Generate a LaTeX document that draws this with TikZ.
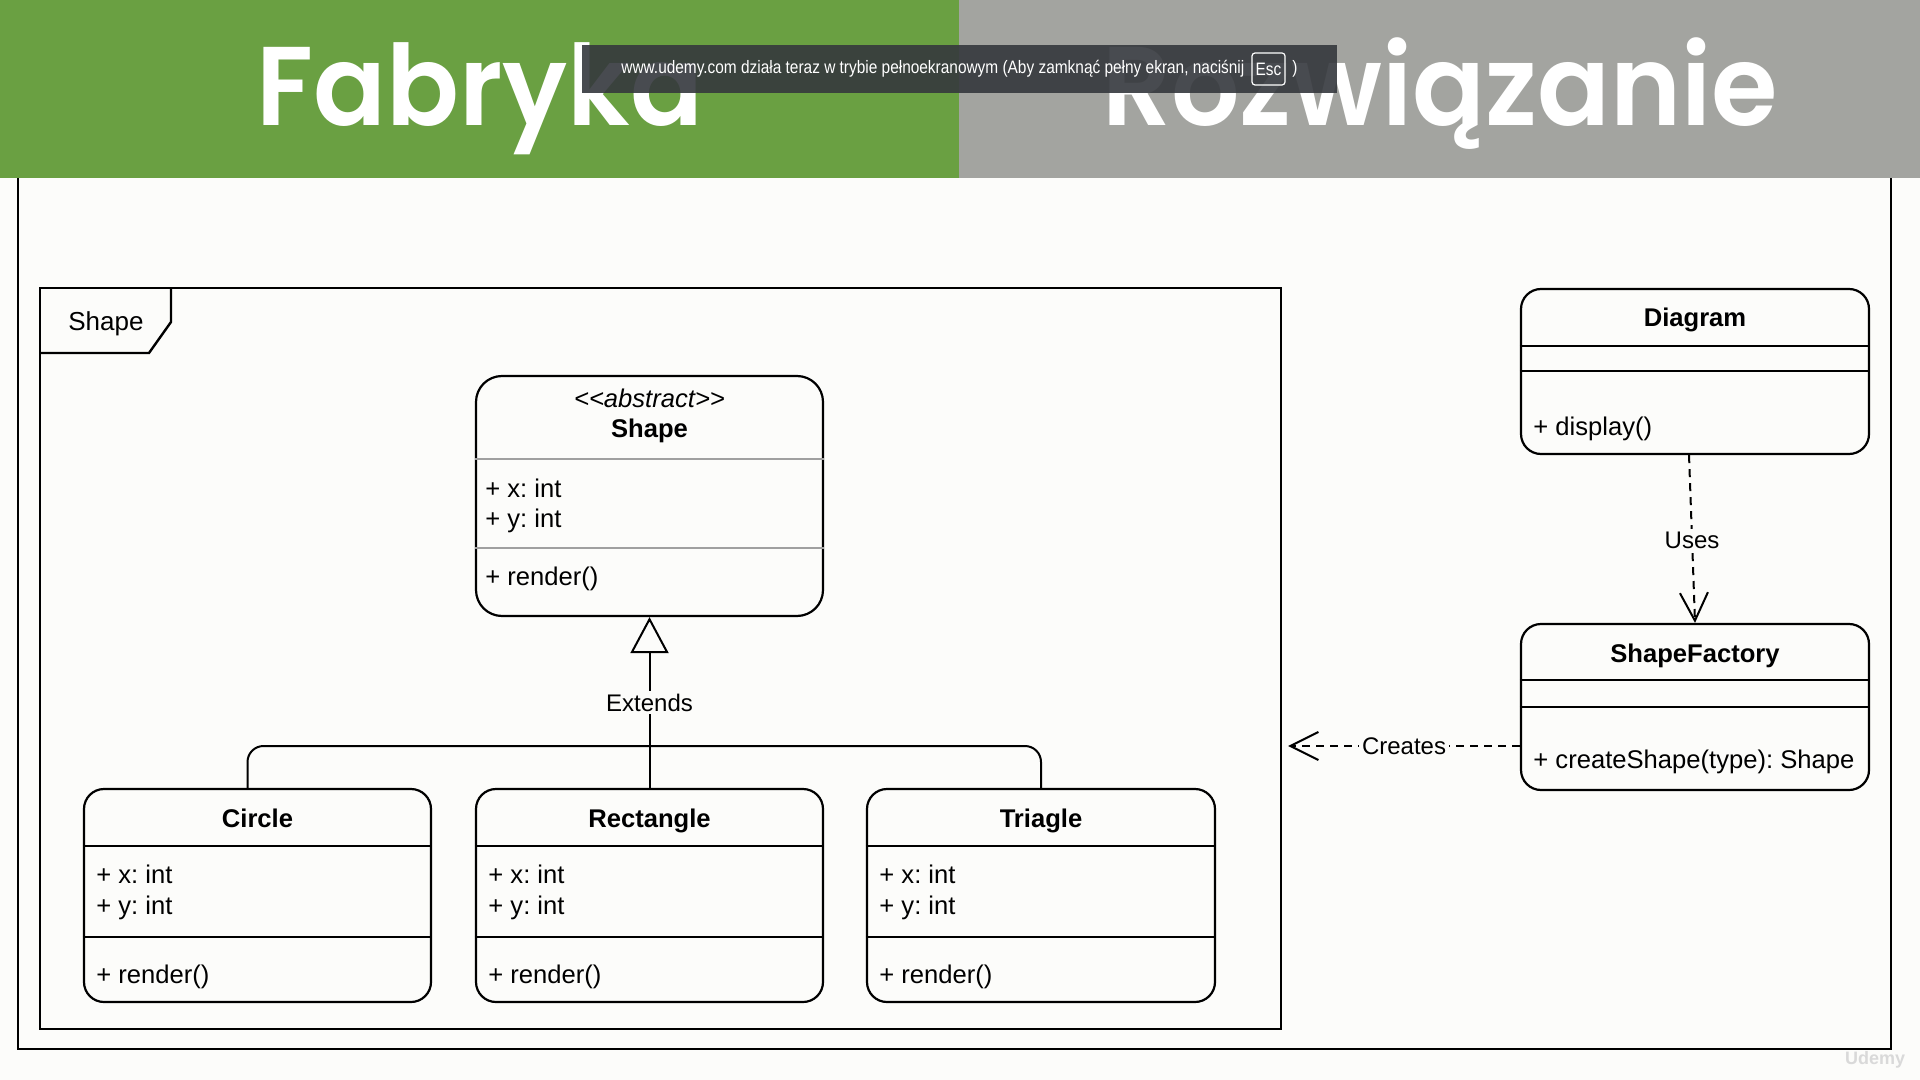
\documentclass[tikz,border=0pt]{standalone}
\usepackage{fontspec}
\setmainfont{Liberation Sans}
\newfontfamily\tytulfont[FakeStretch=0.96, BoldFont={* SemiBold}]{Poppins}
\newfontfamily\paskowyfont[FakeStretch=0.857]{Liberation Sans}
\usetikzlibrary{arrows.meta}
\frenchspacing

\definecolor{tlo}{HTML}{FCFCFA}
\definecolor{zielony}{HTML}{6AA042}
\definecolor{szary}{HTML}{A3A4A0}
\definecolor{pasek}{HTML}{35383D}
\definecolor{linia}{HTML}{A0A0A0}

\tikzset{
  klasa/.style={draw=black, line width=1.1pt, rounded corners=10pt, fill=tlo, inner sep=0pt},
  tekst/.style={anchor=base west, inner sep=0pt, font=\fontsize{12.8}{15}\selectfont},
  nazwa/.style={anchor=base, inner sep=0pt, font=\fontsize{12.8}{15}\selectfont\bfseries},
  podpis/.style={fill=tlo, inner sep=1.5pt, font=\fontsize{12}{14}\selectfont},
  tytul/.style={anchor=base, text=white, inner sep=0pt, font=\tytulfont\bfseries\fontsize{56}{60}\selectfont},
  dziedziczy/.style={black, line width=1pt, -{Triangle[length=18pt, width=19pt, fill=tlo]}},
  zalezy/.style={black, line width=1pt, dash pattern=on 4pt off 3pt, -{Straight Barb[length=14pt, width=14pt]}}
}

\begin{document}
\begin{tikzpicture}[x=0.5pt, y=-0.5pt]
    \useasboundingbox (0,0) rectangle (1920,1080);
    \fill[tlo] (0,0) rectangle (1920,1080);

    % Ramka slajdu
    \draw[black, line width=1pt] (18,170) rectangle (1891,1049);



    % Naglowek
    \fill[zielony] (0,0) rectangle (959,178);
    \fill[szary] (959,0) rectangle (1920,178);

    \node[tytul] (fabryka) at (480,126) {Fabryka};

    \node[tytul] (rozwiazanie) at (1440,126) {Rozwiązanie};



    % Pasek przegladarki
    \fill[pasek, opacity=0.9] (582,45) rectangle (1337,93);

    \node[anchor=west, text=white, inner sep=0pt, font=\paskowyfont\fontsize{9}{10}\selectfont] (komunikat) at (621,69) {www.udemy.com działa teraz w trybie pełnoekranowym (Aby zamknąć pełny ekran, naciśnij};

    \node[draw=white, line width=0.6pt, rounded corners=1.5pt, text=white, minimum width=16.5pt, minimum height=16pt, inner sep=0pt, font=\paskowyfont\fontsize{9}{10}\selectfont] (esc) at (1268.5,69) {Esc};

    \node[anchor=west, text=white, inner sep=0pt, font=\paskowyfont\fontsize{9}{10}\selectfont] (nawias) at (1292,69) {)};



    % Pakiet Shape
    \node[draw=black, line width=1.2pt, minimum width=620.5pt, minimum height=370.5pt, inner sep=0pt] (pakiet) at (660.5,658.5) {};

    \draw[black, line width=1.2pt] (40,353) -- (149,353) -- (171,322) -- (171,288);

    \node[tekst, font=\fontsize{13}{15}\selectfont] (pakiet-nazwa) at (68,331) {Shape};



    % Klasa abstrakcyjna
    \node[klasa, rounded corners=13pt, minimum width=173.5pt, minimum height=120pt] (shape) at (649.5,496) {};

    \draw[linia, line width=1pt] (shape.west |- 0,459) -- (shape.east |- 0,459);

    \draw[linia, line width=1pt] (shape.west |- 0,548) -- (shape.east |- 0,548);

    \node[anchor=base, inner sep=0pt, font=\fontsize{12.8}{15}\selectfont\itshape] (shape-s) at (649.5,407) {{<}{<}abstract{>}{>}};

    \node[nazwa] (shape-t) at (649.5,437) {Shape};

    \node[tekst] (shape-x) at (485,497) {+ x: int};

    \node[tekst] (shape-y) at (485,527) {+ y: int};

    \node[tekst] (shape-r) at (485,585) {+ render()};



    % Circle
    \node[klasa, minimum width=173.5pt, minimum height=106.5pt] (circle) at (257.5,895.5) {};

    \draw[black, line width=1.1pt] (circle.west |- 0,846) -- (circle.east |- 0,846);

    \draw[black, line width=1.1pt] (circle.west |- 0,937) -- (circle.east |- 0,937);

    \node[nazwa] (circle-t) at (257.5,827) {Circle};

    \node[tekst] (circle-x) at (96,883) {+ x: int};

    \node[tekst] (circle-y) at (96,914) {+ y: int};

    \node[tekst] (circle-r) at (96,983) {+ render()};



    % Rectangle
    \node[klasa, minimum width=173.5pt, minimum height=106.5pt] (rectangle) at (649.5,895.5) {};

    \draw[black, line width=1.1pt] (rectangle.west |- 0,846) -- (rectangle.east |- 0,846);

    \draw[black, line width=1.1pt] (rectangle.west |- 0,937) -- (rectangle.east |- 0,937);

    \node[nazwa] (rectangle-t) at (649.5,827) {Rectangle};

    \node[tekst] (rectangle-x) at (488,883) {+ x: int};

    \node[tekst] (rectangle-y) at (488,914) {+ y: int};

    \node[tekst] (rectangle-r) at (488,983) {+ render()};



    % Triagle
    \node[klasa, minimum width=174pt, minimum height=106.5pt] (triagle) at (1041,895.5) {};

    \draw[black, line width=1.1pt] (triagle.west |- 0,846) -- (triagle.east |- 0,846);

    \draw[black, line width=1.1pt] (triagle.west |- 0,937) -- (triagle.east |- 0,937);

    \node[nazwa] (triagle-t) at (1041,827) {Triagle};

    \node[tekst] (triagle-x) at (879,883) {+ x: int};

    \node[tekst] (triagle-y) at (879,914) {+ y: int};

    \node[tekst] (triagle-r) at (879,983) {+ render()};



    % Dziedziczenie
    \coordinate (rozgalezienie) at (649.5,746);

    \draw[black, line width=1pt, rounded corners=8pt] ([xshift=-5pt]circle.north) |- (rozgalezienie) -| (triagle.north);

    \draw[dziedziczy] (rectangle.north) -- (shape.south) node[podpis, pos=0.5] (extends) {Extends};



    % Diagram
    \node[klasa, minimum width=174pt, minimum height=82.5pt] (diagram) at (1695,371.5) {};

    \draw[black, line width=1.1pt] (diagram.west |- 0,346) -- (diagram.east |- 0,346);

    \draw[black, line width=1.1pt] (diagram.west |- 0,371) -- (diagram.east |- 0,371);

    \node[nazwa] (diagram-t) at (1695,327) {Diagram};

    \node[tekst] (diagram-d) at (1533,435) {+ display()};



    % ShapeFactory
    \node[klasa, minimum width=174pt, minimum height=83pt] (factory) at (1695,707) {};

    \draw[black, line width=1.1pt] (factory.west |- 0,680) -- (factory.east |- 0,680);

    \draw[black, line width=1.1pt] (factory.west |- 0,707) -- (factory.east |- 0,707);

    \node[nazwa] (factory-t) at (1695,662) {ShapeFactory};

    \node[tekst] (factory-c) at (1533,768) {+ createShape(type): Shape};



    % Zaleznosci
    \draw[zalezy] ([xshift=-3pt]diagram.south) -- (factory.north) node[podpis, pos=0.51] (uses) {Uses};

    \coordinate (tworzy) at ([yshift=-19.5pt]factory.west);

    \coordinate (pakiet-bok) at ([xshift=3pt]pakiet.east);

    \draw[zalezy] (tworzy) -- (pakiet-bok |- tworzy) node[podpis, pos=0.5] (creates) {Creates};



    % Znak wodny
    \node[text=black!15, inner sep=0pt, font=\bfseries\fontsize{9}{10}\selectfont] (udemy) at (1875,1060) {Udemy};
\end{tikzpicture}
\end{document}
